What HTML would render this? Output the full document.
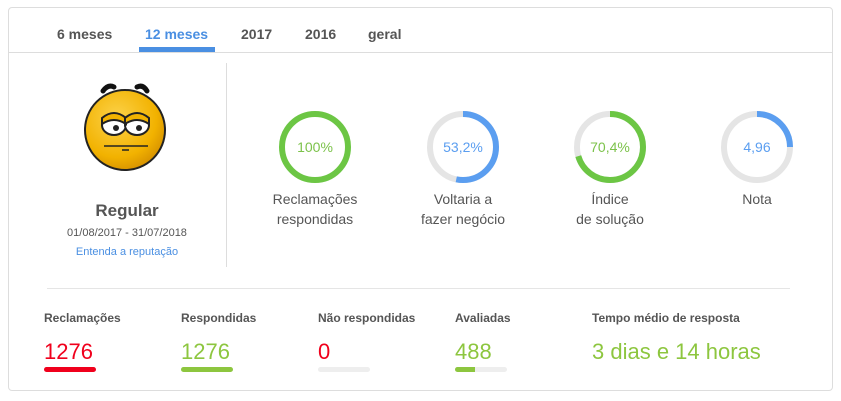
<!DOCTYPE html>
<html><head><meta charset="utf-8"><style>
*{margin:0;padding:0;box-sizing:border-box}
body{width:841px;height:401px;background:#fff;font-family:"Liberation Sans",sans-serif;position:relative;overflow:hidden;color:#555}
.a{position:absolute;white-space:nowrap}
.card{position:absolute;left:8px;top:7px;width:825px;height:384px;border:1px solid #ddd;border-radius:4px}
.tab{font-weight:bold;font-size:14px;color:#555;top:26px}
.lbl{font-size:14px;color:#555;text-align:center;line-height:20px}
.h{font-weight:bold;font-size:12px;color:#555;top:311px}
.v{font-size:22px;top:339px}
.bar{position:absolute;top:367px;width:52px;height:5px;border-radius:3px;background:#eee;overflow:hidden}
</style></head><body>
<div class="card"></div>
<div class="a" style="left:9px;top:52px;width:823px;height:1px;background:#ddd"></div>
<div class="a tab" style="left:57px">6 meses</div>
<div class="a tab" style="left:145px;color:#4a8fe2">12 meses</div>
<div class="a tab" style="left:241px">2017</div>
<div class="a tab" style="left:305px">2016</div>
<div class="a tab" style="left:368px">geral</div>
<div class="a" style="left:139px;top:47px;width:76px;height:5px;background:#4a8fe2"></div>
<div class="a" style="left:226px;top:63px;width:1px;height:204px;background:#ddd"></div>
<svg class="a" style="left:0;top:0" width="841" height="401">
<defs><radialGradient id="g" cx="0.4" cy="0.35" r="0.7"><stop offset="0" stop-color="#fcd24a"/><stop offset="0.7" stop-color="#f2b200"/><stop offset="1" stop-color="#d48f00"/></radialGradient></defs>
<path d="M103 91 Q108 84 114 87" stroke="#111" stroke-width="5" fill="none" stroke-linecap="round"/>
<path d="M137 87 Q143 84 147 91" stroke="#111" stroke-width="5" fill="none" stroke-linecap="round"/>
<circle cx="125" cy="130" r="40" fill="url(#g)" stroke="#222" stroke-width="2"/>
<ellipse cx="114" cy="125" rx="12" ry="10" fill="#fff" stroke="#222" stroke-width="2"/>
<ellipse cx="137" cy="125" rx="12" ry="10" fill="#fff" stroke="#222" stroke-width="2"/>
<path d="M102 124 Q114 116 126 124 L126 118 Q114 108 102 118Z" fill="#f2b200" stroke="#222" stroke-width="2"/>
<path d="M125 124 Q137 116 149 124 L149 118 Q137 108 125 118Z" fill="#f2b200" stroke="#222" stroke-width="2"/>
<circle cx="116" cy="128" r="3" fill="#222"/><circle cx="139" cy="128" r="3" fill="#222"/>
<path d="M104 146 L148 146" stroke="#222" stroke-width="1.5"/><path d="M122 150 L129 150" stroke="#222" stroke-width="1.5"/>
<g fill="none" stroke-width="6">
<circle cx="315" cy="147" r="33" stroke="#6cc644"/>
<circle cx="463" cy="147" r="33" stroke="#e5e5e5"/>
<circle cx="463" cy="147" r="33" stroke="#5b9ef0" stroke-dasharray="110.3 300" transform="rotate(-90 463 147)"/>
<circle cx="610" cy="147" r="33" stroke="#e5e5e5"/>
<circle cx="610" cy="147" r="33" stroke="#6cc644" stroke-dasharray="146 300" transform="rotate(-90 610 147)"/>
<circle cx="757" cy="147" r="33" stroke="#e5e5e5"/>
<circle cx="757" cy="147" r="33" stroke="#5b9ef0" stroke-dasharray="51.7 300" transform="rotate(-90 757 147)"/>
</g>
<g font-family="Liberation Sans" font-size="14" text-anchor="middle">
<text x="315" y="152" fill="#7cc24a">100%</text>
<text x="463" y="152" fill="#5b9ef0">53,2%</text>
<text x="610" y="152" fill="#7cc24a">70,4%</text>
<text x="757" y="152" fill="#5b9ef0">4,96</text>
</g></svg>
<div class="a" style="left:52px;top:201px;width:150px;text-align:center;font-weight:bold;font-size:17px;color:#555">Regular</div>
<div class="a" style="left:52px;top:227px;width:150px;text-align:center;font-size:11px;color:#555">01/08/2017 - 31/07/2018</div>
<div class="a" style="left:52px;top:246px;width:150px;text-align:center;font-size:11px;color:#4a8fe2">Entenda a reputação</div>
<div class="a lbl" style="left:255px;top:189px;width:120px">Reclamações<br>respondidas</div>
<div class="a lbl" style="left:403px;top:189px;width:120px">Voltaria a<br>fazer negócio</div>
<div class="a lbl" style="left:550px;top:189px;width:120px">Índice<br>de solução</div>
<div class="a lbl" style="left:697px;top:189px;width:120px">Nota</div>
<div class="a" style="left:47px;top:288px;width:743px;height:1px;background:#e5e5e5"></div>
<div class="a h" style="left:44px">Reclamações</div>
<div class="a h" style="left:181px">Respondidas</div>
<div class="a h" style="left:318px">Não respondidas</div>
<div class="a h" style="left:455px">Avaliadas</div>
<div class="a h" style="left:592px">Tempo médio de resposta</div>
<div class="a v" style="left:44px;color:#f0001c">1276</div>
<div class="a v" style="left:181px;color:#8dc63f">1276</div>
<div class="a v" style="left:318px;color:#f0001c">0</div>
<div class="a v" style="left:455px;color:#8dc63f">488</div>
<div class="a v" style="left:592px;color:#8dc63f">3 dias e 14 horas</div>
<div class="bar" style="left:44px;background:#f0001c"></div>
<div class="bar" style="left:181px;background:#8dc63f"></div>
<div class="bar" style="left:318px"></div>
<div class="bar" style="left:455px"><div style="width:20px;height:5px;background:#8dc63f"></div></div>
</body></html>
